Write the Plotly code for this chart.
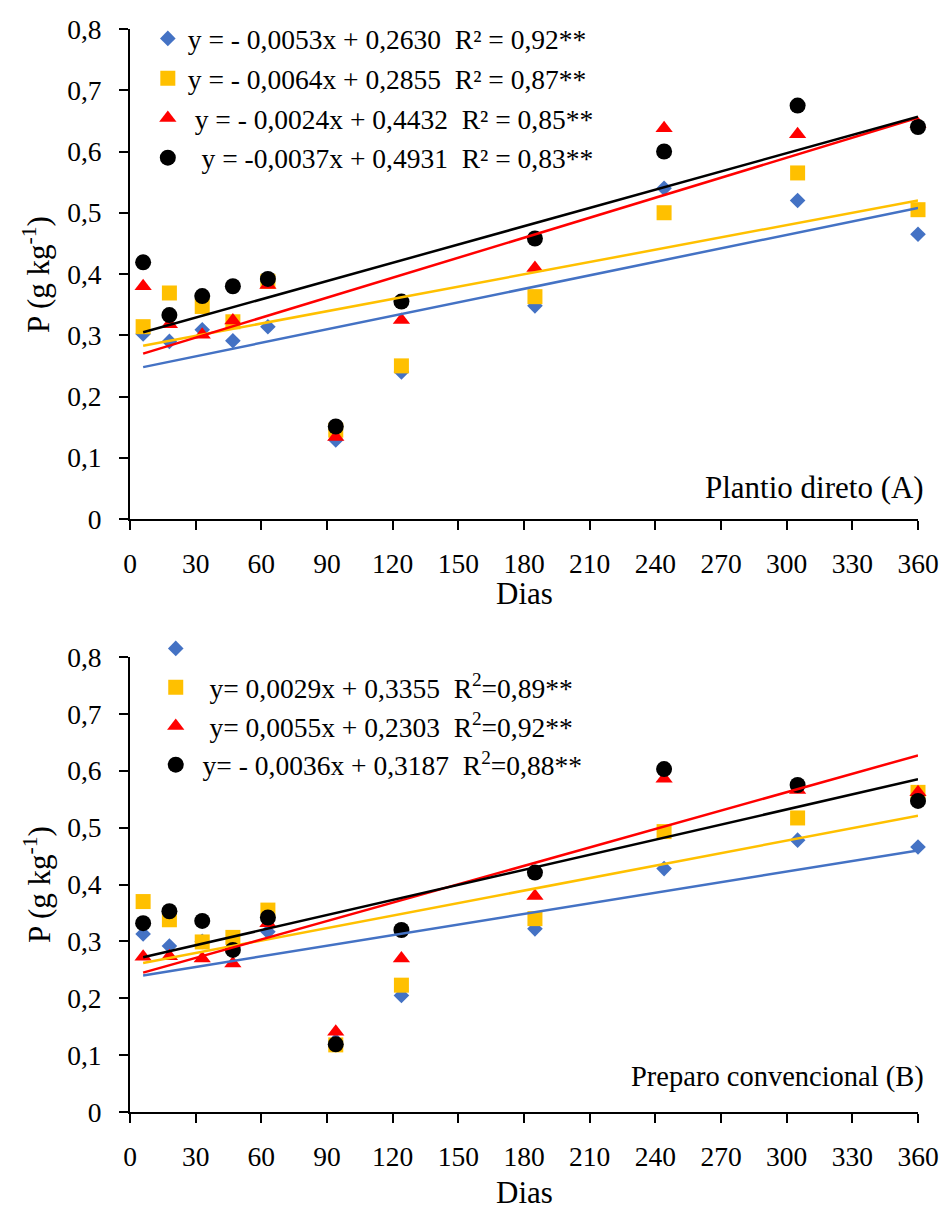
import plotly.graph_objects as go

# Sampling days
days = [6, 18, 33, 47, 63, 94, 124, 185, 244, 305, 360]

# Panel A - Plantio direto: P (g kg-1) per treatment
blue_A = [0.302, 0.290, 0.309, 0.291, 0.314, 0.129, 0.240, 0.348, 0.540, 0.520, 0.465]
yellow_A = [0.314, 0.369, 0.347, 0.322, 0.388, 0.145, 0.250, 0.363, 0.500, 0.565, 0.505]
red_A = [0.380, 0.318, 0.301, 0.324, 0.382, 0.134, 0.325, 0.410, 0.638, 0.628, 0.645]
black_A = [0.419, 0.333, 0.364, 0.380, 0.392, 0.151, 0.355, 0.458, 0.600, 0.675, 0.640]

# Panel B - Preparo convencional
blue_B = [0.313, 0.292, 0.300, 0.290, 0.317, 0.125, 0.205, 0.322, 0.428, 0.478, 0.466]
yellow_B = [0.370, 0.338, 0.299, 0.307, 0.355, 0.118, 0.223, 0.340, 0.493, 0.517, 0.562]
red_B = [0.273, 0.274, 0.270, 0.261, 0.332, 0.141, 0.270, 0.380, 0.586, 0.566, 0.562]
black_B = [0.332, 0.353, 0.336, 0.285, 0.342, 0.119, 0.320, 0.421, 0.603, 0.575, 0.547]

# Fitted trend lines (start and end of each line)
trend_days = [6, 360]
trend_A = {
    "blue": [0.248, 0.508],
    "yellow": [0.283, 0.520],
    "red": [0.270, 0.655],
    "black": [0.305, 0.657],
}
trend_B = {
    "blue": [0.240, 0.460],
    "yellow": [0.262, 0.521],
    "red": [0.245, 0.627],
    "black": [0.272, 0.585],
}

# Equation labels
eq_A = [
    "y = - 0,0053x + 0,2630\u00a0\u00a0R\u00b2 = 0,92**",
    "y = - 0,0064x + 0,2855\u00a0\u00a0R\u00b2 = 0,87**",
    "\u00a0y = - 0,0024x + 0,4432\u00a0\u00a0R\u00b2 = 0,85**",
    "\u00a0\u00a0y = -0,0037x + 0,4931\u00a0\u00a0R\u00b2 = 0,83**",
]
eq_B = [
    " ",
    "\u00a0\u00a0y= 0,0029x + 0,3355\u00a0\u00a0R<sup>2</sup>=0,89**",
    "\u00a0\u00a0y= 0,0055x + 0,2303\u00a0\u00a0R<sup>2</sup>=0,92**",
    "\u00a0y= - 0,0036x + 0,3187\u00a0\u00a0R<sup>2</sup>=0,88**",
]

y_ticks = [0, 0.1, 0.2, 0.3, 0.4, 0.5, 0.6, 0.7, 0.8]
y_ticktext = ["0", "0,1", "0,2", "0,3", "0,4", "0,5", "0,6", "0,7", "0,8"]
x_ticks = list(range(0, 361, 30))

colors = {"blue": "#4472C4", "yellow": "#FFC000", "red": "#FF0000", "black": "#000000"}
symbols = {"blue": "diamond", "yellow": "square", "red": "triangle-up", "black": "circle"}
sizes = {"blue": 12, "yellow": 15, "red": 15, "black": 16}

FONT = "Liberation Serif, Times New Roman, serif"

fig = go.Figure()

panels = [
    ("x", "y", "legend", [blue_A, yellow_A, red_A, black_A], trend_A, eq_A),
    ("x2", "y2", "legend2", [blue_B, yellow_B, red_B, black_B], trend_B, eq_B),
]
keys = ["blue", "yellow", "red", "black"]

for xa, ya, leg, series, trends, eqs in panels:
    for i, (k, vals) in enumerate(zip(keys, series)):
        fig.add_trace(go.Scatter(
            x=days, y=vals, mode="markers", xaxis=xa, yaxis=ya,
            name=eqs[i], legend=leg, legendgroup=f"{leg}{k}",
            marker=dict(symbol=symbols[k], size=sizes[k], color=colors[k], line=dict(width=0)),
            cliponaxis=False,
        ))
    for k in keys:
        fig.add_trace(go.Scatter(
            x=trend_days, y=trends[k], mode="lines", xaxis=xa, yaxis=ya,
            line=dict(color=colors[k], width=2.5), showlegend=False, hoverinfo="skip",
        ))

W, H = 951, 1212
L, R, T, B = 130, 25, 29, 100
pw, ph = W - L - R, H - T - B


def px(v):
    return (v - L) / pw


def py(v):
    return (H - B - v) / ph


axis_common = dict(
    showline=True, linecolor="black", linewidth=2, showgrid=False, zeroline=False,
    ticks="outside", ticklen=9, tickwidth=2, tickcolor="black",
    tickfont=dict(family=FONT, size=27.5, color="black"),
)

fig.update_layout(
    width=W, height=H,
    margin=dict(l=L, r=R, t=T, b=B),
    paper_bgcolor="white", plot_bgcolor="white",
    font=dict(family=FONT, color="black"),
    xaxis=dict(domain=[0, 1], range=[0, 360], tickvals=x_ticks, anchor="y",
               ticklabelstandoff=10, **axis_common),
    yaxis=dict(domain=[py(519), 1], range=[0, 0.8], tickvals=y_ticks, ticktext=y_ticktext,
               anchor="x", ticklabelstandoff=12, **axis_common),
    xaxis2=dict(domain=[0, 1], range=[0, 360], tickvals=x_ticks, anchor="y2",
                ticklabelstandoff=10, **axis_common),
    yaxis2=dict(domain=[0, py(657)], range=[0, 0.8], tickvals=y_ticks, ticktext=y_ticktext,
                anchor="x2", ticklabelstandoff=12, **axis_common),
    legend=dict(x=px(148), y=py(14), xanchor="left", yanchor="top",
                font=dict(family=FONT, size=27.5, color="black"), bgcolor="rgba(0,0,0,0)",
                tracegroupgap=1, itemsizing="trace"),
    legend2=dict(x=px(156), y=py(624), xanchor="left", yanchor="top",
                 font=dict(family=FONT, size=27.5, color="black"), bgcolor="rgba(0,0,0,0)",
                 tracegroupgap=0, itemsizing="trace"),
)

title_font = dict(family=FONT, size=31, color="black")
texts = [
    ("Dias", 528, 593, 0),
    ("Dias", 528, 1192, 0),
    ("P (g kg<sup>-1</sup>)", 36, 274, -90),
    ("P (g kg<sup>-1</sup>)", 36, 884, -90),
]
for t, x, y, ang in texts:
    fig.add_annotation(text=t, x=px(x), y=py(y), xref="paper", yref="paper",
                       showarrow=False, textangle=ang, font=title_font,
                       xanchor="center", yanchor="middle")

fig.add_annotation(text="Plantio direto (A)", x=px(934), y=py(488), xref="paper", yref="paper",
                   showarrow=False, font=dict(family=FONT, size=31, color="black"),
                   xanchor="right", yanchor="middle")
fig.add_annotation(text="Preparo convencional (B)", x=px(934), y=py(1077), xref="paper", yref="paper",
                   showarrow=False, font=dict(family=FONT, size=28.5, color="black"),
                   xanchor="right", yanchor="middle")

fig.write_html("out.html")
